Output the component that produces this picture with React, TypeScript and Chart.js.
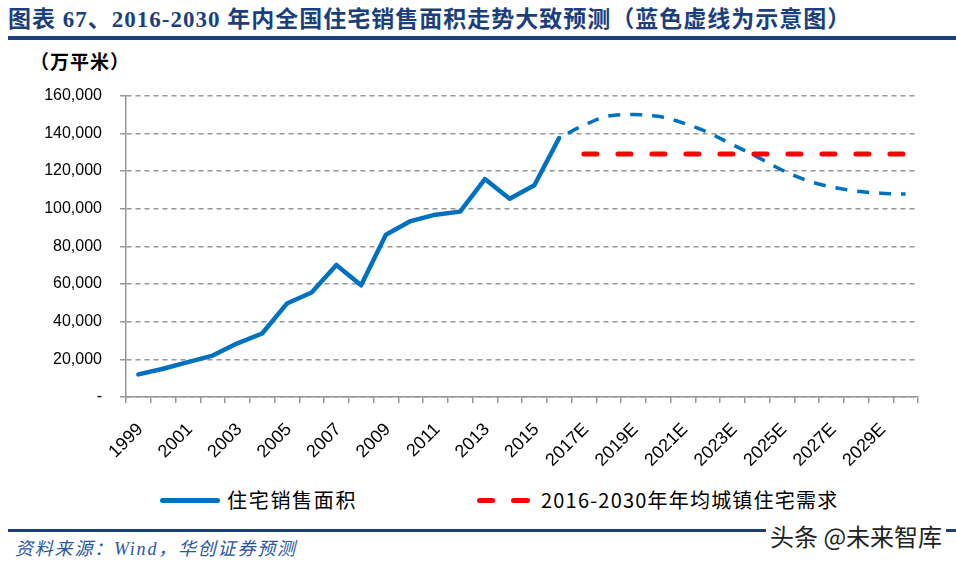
import { useEffect, useRef } from "react";
import { Chart, registerables } from "chart.js";

Chart.register(...registerables);

// 年份（1999-2016 为实际，2017E-2030E 为预测）
const years = [
  "1999", "2000", "2001", "2002", "2003", "2004", "2005", "2006", "2007",
  "2008", "2009", "2010", "2011", "2012", "2013", "2014", "2015", "2016",
  "2017E", "2018E", "2019E", "2020E", "2021E", "2022E", "2023E", "2024E",
  "2025E", "2026E", "2027E", "2028E", "2029E", "2030E",
];

// 住宅销售面积（万平米），1999-2016
const salesArea = [
  12000, 15000, 18500, 22000, 28500, 33700, 49600, 55500, 70100,
  59300, 86100, 93400, 96800, 98400, 115700, 105200, 112400, 137500,
];

// 蓝色虚线示意，2016-2030E
const forecastArea = [
  137500, 144300, 149200, 150000, 149000, 145500, 140500, 134000,
  127500, 120500, 115000, 111500, 109300, 108200, 107700,
];

// 2016-2030年年均城镇住宅需求，2017E-2030E
const demandArea = [
  129000, 129000, 129000, 129000, 129000, 129000, 129000,
  129000, 129000, 129000, 129000, 129000, 129000, 129000,
];

const yMax = 160000;
const yStep = 20000;

const navy = "#1b3f7d";
const blue = "#0070C0";
const red = "#FF0000";
const gray = "#969696";

const pad = (n: number) => Array(n).fill(null);

const SalesChart = () => {
  const chartRef = useRef<HTMLCanvasElement | null>(null);
  const chartInstanceRef = useRef<Chart | null>(null);

  useEffect(() => {
    if (!chartRef.current) return;
    const ctx = chartRef.current.getContext("2d");
    if (!ctx) return;
    if (chartInstanceRef.current) chartInstanceRef.current.destroy();

    chartInstanceRef.current = new Chart(ctx, {
      type: "line",
      data: {
        labels: years,
        datasets: [
          {
            label: "住宅销售面积",
            data: [...salesArea, ...pad(years.length - salesArea.length)],
            borderColor: blue,
            borderWidth: 4.5,
            borderJoinStyle: "round",
            borderCapStyle: "round",
            pointRadius: 0,
            tension: 0,
          },
          {
            label: "2016-2030年年均城镇住宅需求",
            data: [...pad(years.length - demandArea.length), ...demandArea],
            borderColor: red,
            borderWidth: 5,
            borderDash: [13, 21],
            borderCapStyle: "round",
            pointRadius: 0,
            tension: 0,
          },
          {
            label: "示意",
            data: [...pad(years.length - forecastArea.length), ...forecastArea],
            borderColor: blue,
            borderWidth: 3.5,
            borderDash: [12, 10],
            borderDashOffset: 12,
            pointRadius: 0,
            cubicInterpolationMode: "monotone",
          },
        ],
      },
      options: {
        responsive: false,
        animation: false,
        layout: { padding: { top: 2, right: 38, bottom: 0, left: 0 } },
        plugins: {
          legend: { display: false },
          tooltip: { enabled: false },
        },
        scales: {
          x: {
            offset: true,
            grid: {
              offset: true,
              drawOnChartArea: false,
              drawTicks: true,
              tickLength: 6,
              color: gray,
              lineWidth: 1.5,
            },
            border: { color: gray, width: 1.5 },
            ticks: {
              autoSkip: false,
              minRotation: 45,
              maxRotation: 45,
              padding: 16,
              labelOffset: 2,
              color: "#000",
              font: { family: "Liberation Sans", size: 18 },
              callback: (_v, i) => (i % 2 === 0 ? years[i] : ""),
            },
            afterFit: (scale) => {
              scale.height = 83;
            },
          },
          y: {
            min: 0,
            max: yMax,
            grid: {
              color: gray,
              lineWidth: 1.5,
              tickLength: 6,
            },
            border: { color: gray, width: 1.5, dash: [5, 4] },
            ticks: {
              stepSize: yStep,
              padding: 18,
              color: "#000",
              font: { family: "Liberation Sans", size: 16 },
              callback: (v) => (Number(v) === 0 ? "-" : Number(v).toLocaleString("en-US")),
            },
            afterFit: (scale) => {
              scale.width = 126;
            },
          },
        },
      },
    });

    return () => {
      if (chartInstanceRef.current) {
        chartInstanceRef.current.destroy();
        chartInstanceRef.current = null;
      }
    };
  }, []);

  return (
    <canvas
      ref={chartRef}
      width={956}
      height={412}
      style={{ position: "absolute", left: 0, top: 68, width: 956, height: 412 }}
    />
  );
};

const cjk = '"Noto Sans CJK SC", "Liberation Sans", sans-serif';

const App = () => {
  return (
    <div
      style={{
        position: "fixed",
        left: 0,
        top: 0,
        width: 956,
        height: 563,
        background: "#fff",
        overflow: "hidden",
        fontFamily: cjk,
      }}
    >
      <div
        style={{
          position: "absolute",
          left: 8,
          top: 4,
          fontFamily: '"Liberation Serif", "Noto Sans CJK SC", serif',
          fontWeight: "bold",
          fontSize: 23,
          letterSpacing: 1,
          color: navy,
          whiteSpace: "nowrap",
          lineHeight: "32px",
        }}
      >
        图表 67、2016-2030 年内全国住宅销售面积走势大致预测（蓝色虚线为示意图）
      </div>
      <div style={{ position: "absolute", left: 8, top: 36, width: 948, height: 4, background: navy }} />
      <div
        style={{
          position: "absolute",
          left: 30,
          top: 48,
          fontWeight: "bold",
          fontSize: 19,
          letterSpacing: 1,
          color: "#000",
          lineHeight: "26px",
          whiteSpace: "nowrap",
        }}
      >
        （万平米）
      </div>

      <SalesChart />

      {/* 图例 */}
      <div style={{ position: "absolute", left: 160, top: 497.5, width: 60, height: 5, borderRadius: 2.5, background: blue }} />
      <div
        style={{
          position: "absolute",
          left: 227,
          top: 486,
          fontSize: 20,
          letterSpacing: 1.7,
          lineHeight: "28px",
          color: "#000",
          whiteSpace: "nowrap",
        }}
      >
        住宅销售面积
      </div>
      <div style={{ position: "absolute", left: 477, top: 497.5, width: 18, height: 5, borderRadius: 2.5, background: red }} />
      <div style={{ position: "absolute", left: 511, top: 497.5, width: 19, height: 5, borderRadius: 2.5, background: red }} />
      <div
        style={{
          position: "absolute",
          left: 541,
          top: 486,
          fontSize: 20,
          letterSpacing: 1.2,
          lineHeight: "28px",
          color: "#000",
          whiteSpace: "nowrap",
        }}
      >
        2016-2030年年均城镇住宅需求
      </div>

      {/* 底部 */}
      <div style={{ position: "absolute", left: 8, top: 529, width: 948, height: 3, background: navy }} />
      <div
        style={{
          position: "absolute",
          left: 15,
          top: 537,
          fontFamily: '"Liberation Serif", "Noto Sans CJK SC", serif',
          fontStyle: "italic",
          fontSize: 18,
          letterSpacing: 1.8,
          color: "#2a56a0",
          lineHeight: "24px",
          whiteSpace: "nowrap",
        }}
      >
        资料来源：Wind，华创证券预测
      </div>
      <div
        style={{
          position: "absolute",
          left: 766,
          top: 521,
          fontSize: 24,
          color: "#222",
          lineHeight: "30px",
          whiteSpace: "nowrap",
          background: "#fff",
          padding: "0 4px",
        }}
      >
        头条 @未来智库
      </div>
    </div>
  );
};

export default App;
